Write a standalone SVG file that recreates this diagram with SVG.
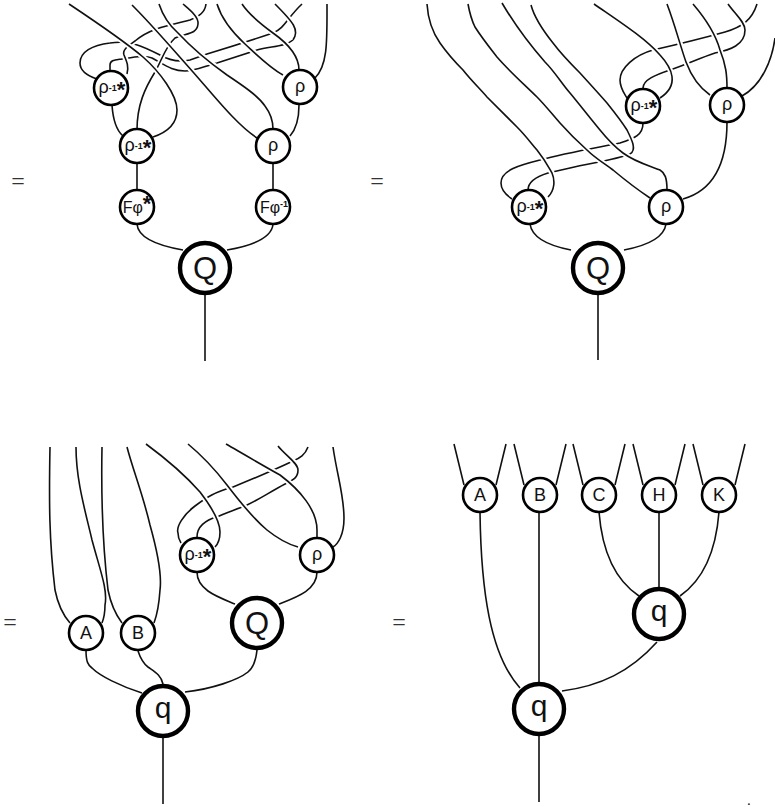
<svg xmlns="http://www.w3.org/2000/svg" width="775" height="807" viewBox="0 0 775 807">
<style>
path{fill:none;stroke:#111;stroke-width:1.6;stroke-linecap:butt}
path.h{stroke:#fff;stroke-width:5.5}
circle{fill:#fff;stroke:#000;stroke-width:2.6}
circle.b{stroke-width:4.4}
text{font-family:"Liberation Sans",Arial,sans-serif;fill:#111;text-anchor:middle}
.m{font-size:18px}
.g{font-size:18px}
.f{font-size:16px}
.l{font-size:31px}
.q{font-size:30px}
.e{font-family:"Liberation Serif","Times New Roman",serif;font-size:24px;fill:#333}
.s{font-size:9px;font-weight:bold}
.t{font-size:22px;font-weight:bold}
.d{font-size:10px;font-weight:bold}
</style>
<g id="connectors">
<!-- panel 1 -->
<path d="M97,79 C85,75 80,70 80,63 C80,52 92,45 110,43 C130,40 142,46 160,55 C170,61 180,62 190,60 L207,54 C230,47 255,39 273,33 C285,28 287,18 302,4"/>
<path d="M110,72 L110,65 C110,60 115,60 122,59 C135,57 145,55 152,58 C165,65 172,71 185,71 C195,71 205,66 217,63 L257,50 C270,46 285,47 293,40"/>
<path class="h" d="M293,40 C300,30 293,22 275,4"/>
<path d="M293,40 C300,30 293,22 275,4"/>
<path class="h" d="M206,4 C205,12 200,16 190,20 C170,25 150,28 135,41 C128,46 122,50 124,55 C127,62 129,67 127,74"/>
<path d="M206,4 C205,12 200,16 190,20 C170,25 150,28 135,41 C128,46 122,50 124,55 C127,62 129,67 127,74"/>
<path class="h" d="M183,4 C190,10 199,17 198,24 C197,35 185,33 175,38 C165,47 162,60 155,72 C145,88 137,105 137,130"/>
<path d="M183,4 C190,10 199,17 198,24 C197,35 185,33 175,38 C165,47 162,60 155,72 C145,88 137,105 137,130"/>
<path class="h" d="M69,4 C90,18 123,40 143,57 C160,72 177,95 177,110 C177,125 165,133 153,137"/>
<path d="M69,4 C90,18 123,40 143,57 C160,72 177,95 177,110 C177,125 165,133 153,137"/>
<path class="h" d="M132,5 C155,28 175,52 193,72 C215,97 237,125 257,138"/>
<path d="M132,5 C155,28 175,52 193,72 C215,97 237,125 257,138"/>
<path class="h" d="M159,4 C163,16 170,26 178,33 C192,48 210,63 227,75 C245,87 258,96 265,106 C271,114 273,122 273,129"/>
<path d="M159,4 C163,16 170,26 178,33 C192,48 210,63 227,75 C245,87 258,96 265,106 C271,114 273,122 273,129"/>
<path class="h" d="M217,4 C222,20 232,32 245,44 C258,56 270,68 283,75"/>
<path d="M217,4 C222,20 232,32 245,44 C258,56 270,68 283,75"/>
<path class="h" d="M242,4 C250,16 262,25 273,33 C290,45 299,58 299,70"/>
<path d="M242,4 C250,16 262,25 273,33 C290,45 299,58 299,70"/>
<path d="M327,4 C327,40 328,65 315,78"/>
<path d="M112,105 C113,120 116,130 123,136"/>
<path d="M299,105 C299,118 297,128 290,136"/>
<path d="M137,163 V190 M273,163 V190"/>
<path d="M137,224 C138,238 160,246 183,250 M273,224 C272,238 250,246 227,250"/>
<path d="M205,294 V361"/>
<!-- panel 2 -->
<path d="M643,123 C643,135 635,138 620,143 C595,148 565,153 540,160 C520,165 501,170 501,183 C501,190 506,195 512,199"/>
<path class="h" d="M553,43 C562,55 572,65 580,73 C590,84 600,95 607,103 C615,113 622,122 627,130 C632,140 637,150 630,154"/>
<path d="M531,5 C535,20 545,33 553,43 C562,55 572,65 580,73 C590,84 600,95 607,103 C615,113 622,122 627,130 C632,140 637,150 630,154 C615,160 590,163 570,168 L548,173 C535,177 528,183 528,190"/>
<path class="h" d="M468,4 C470,15 472,21 475,27 C482,38 490,48 497,57 C510,72 525,85 537,97 C545,105 552,114 560,123 C568,132 578,142 587,150 C595,158 605,164 613,170 C625,180 638,190 650,198"/>
<path d="M468,4 C470,15 472,21 475,27 C482,38 490,48 497,57 C510,72 525,85 537,97 C545,105 552,114 560,123 C568,132 578,142 587,150 C595,158 605,164 613,170 C625,180 638,190 650,198"/>
<path class="h" d="M502,3 C515,25 530,45 545,62 C555,72 562,84 570,93 C580,105 590,118 600,130 C608,140 615,147 623,153 C635,162 650,166 660,170 C665,173 667,178 667,190"/>
<path d="M502,3 C515,25 530,45 545,62 C555,72 562,84 570,93 C580,105 590,118 600,130 C608,140 615,147 623,153 C635,162 650,166 660,170 C665,173 667,178 667,190"/>
<path class="h" d="M427,4 C428,20 433,33 440,43 C447,53 455,62 463,70 C470,79 480,89 487,97 C497,107 507,117 517,127 C525,135 531,143 537,150 C545,160 548,166 552,173 C555,180 555,190 548,197"/>
<path d="M427,4 C428,20 433,33 440,43 C447,53 455,62 463,70 C470,79 480,89 487,97 C497,107 507,117 517,127 C525,135 531,143 537,150 C545,160 548,166 552,173 C555,180 555,190 548,197"/>
<path d="M757,4 C752,20 742,27 725,32 C700,39 675,45 653,50 C635,55 620,68 620,80 C620,88 624,93 627,98"/>
<path class="h" d="M728,4 C735,14 745,22 745,30 C745,45 730,50 715,53"/>
<path d="M728,4 C735,14 745,22 745,30 C745,45 730,50 715,53 C700,58 685,65 670,70 C655,75 643,80 643,88"/>
<path class="h" d="M594,4 C620,22 645,38 660,55 C672,68 680,85 660,98"/>
<path d="M594,4 C620,22 645,38 660,55 C672,68 680,85 660,98"/>
<path class="h" d="M667,4 C675,25 680,45 686,62 C692,78 700,88 710,95"/>
<path d="M667,4 C675,25 680,45 686,62 C692,78 700,88 710,95"/>
<path class="h" d="M693,4 C705,18 715,32 720,50 C726,65 727,75 727,88"/>
<path d="M693,4 C705,18 715,32 720,50 C726,65 727,75 727,88"/>
<path d="M742,96 C762,85 772,60 775,38"/>
<path d="M727,122 C727,160 715,190 683,199"/>
<path d="M530,224 C532,238 550,246 571,250 M666,224 C664,238 645,246 624,250"/>
<path d="M598,294 V360"/>
<!-- panel 3 -->
<path d="M50,447 C49,500 49,540 55,590 C58,605 63,615 70,623"/>
<path d="M76,447 C76,480 85,510 92,540 C100,570 108,590 105,605 C105,612 104,618 102,623"/>
<path d="M102,447 C101,500 102,540 108,590 C111,605 116,615 122,623"/>
<path d="M127,447 C133,470 143,495 150,525 C157,550 162,575 160,590 C159,605 157,615 154,623"/>
<path d="M308,447 C305,455 300,458 293,461 C270,472 250,480 233,487 C215,492 207,497 195,506 C183,515 176,527 178,533 C178,537 179,540 181,543"/>
<path class="h" d="M278,446 C285,455 298,463 298,470 C298,478 293,480 285,484"/>
<path d="M278,446 C285,455 298,463 298,470 C298,478 293,480 285,484 C270,492 258,500 247,505 C235,510 225,513 217,517 C205,520 197,527 197,537"/>
<path class="h" d="M146,444 C165,458 185,475 200,492 C210,505 220,520 220,532 C220,540 218,544 215,547"/>
<path d="M146,444 C165,458 185,475 200,492 C210,505 220,520 220,532 C220,540 218,544 215,547"/>
<path class="h" d="M188,444 C205,458 217,472 227,485 C240,502 255,520 267,530 C277,538 287,544 298,547"/>
<path d="M188,444 C205,458 217,472 227,485 C240,502 255,520 267,530 C277,538 287,544 298,547"/>
<path class="h" d="M226,444 C245,455 262,465 280,475 C300,490 317,510 317,530 L317,538"/>
<path d="M226,444 C245,455 262,465 280,475 C300,490 317,510 317,530 L317,538"/>
<path d="M333,447 C337,475 344,495 344,518 C344,535 338,544 333,547"/>
<path d="M197,572 C197,590 218,597 235,604 M317,572 C317,590 297,597 279,604"/>
<path d="M86,650 C86,662 88,665 92,668 C100,676 120,686 142,693 M138,651 C141,660 144,664 148,667 C155,672 161,675 163,684 M257,650 C256,660 254,667 248,672 C238,680 212,689 185,692"/>
<path d="M163,738 V804"/>
<!-- panel 4 -->
<path d="M454,444 L464,485 M506,444 L496,485 M514,444 L524,485 M566,444 L556,485 M573,444 L583,485 M625,444 L615,485 M633,444 L643,485 M685,444 L675,485 M693,444 L703,485 M745,444 L735,485"/>
<path d="M480,512 C481,590 490,655 520,688"/>
<path d="M539,512 V683 M539,735 V802"/>
<path d="M599,512 C602,550 615,580 639,596 M659,512 V588 M719,512 C716,550 703,580 680,596"/>
<path d="M657,642 C630,672 600,686 562,691"/>
</g>
<g id="n1"><circle cx="111" cy="88" r="17"/><text x="112" y="93" class="g">ρ<tspan class="s" dy="-2">-1</tspan><tspan class="t" dy="6">*</tspan></text></g>
<g id="n2"><circle cx="137" cy="146" r="17"/><text x="138" y="151" class="g">ρ<tspan class="s" dy="-2">-1</tspan><tspan class="t" dy="6">*</tspan></text></g>
<g id="n3"><circle cx="137" cy="207" r="17"/><text x="137" y="213" class="f">Fφ<tspan class="t" dy="-2">*</tspan></text></g>
<g id="n4"><circle cx="300" cy="87" r="17"/><text x="300" y="92" class="g">ρ</text></g>
<g id="n5"><circle cx="273" cy="146" r="17"/><text x="273" y="151" class="g">ρ</text></g>
<g id="n6"><circle cx="273" cy="207" r="17"/><text x="274" y="213" class="f">Fφ<tspan class="s" dy="-6">-1</tspan></text></g>
<g id="n7"><circle class="b" cx="205" cy="268" r="25"/><text x="205" y="279" class="l">Q</text></g>
<g id="n8"><circle cx="643" cy="106" r="17"/><text x="644" y="111" class="g">ρ<tspan class="s" dy="-2">-1</tspan><tspan class="t" dy="6">*</tspan></text></g>
<g id="n9"><circle cx="727" cy="105" r="17"/><text x="727" y="110" class="g">ρ</text></g>
<g id="n10"><circle cx="529" cy="207" r="17"/><text x="530" y="212" class="g">ρ<tspan class="s" dy="-2">-1</tspan><tspan class="t" dy="6">*</tspan></text></g>
<g id="n11"><circle cx="666" cy="207" r="17"/><text x="666" y="212" class="g">ρ</text></g>
<g id="n12"><circle class="b" cx="598" cy="268" r="25"/><text x="598" y="279" class="l">Q</text></g>
<g id="n13"><circle cx="197" cy="555" r="17"/><text x="198" y="560" class="g">ρ<tspan class="s" dy="-2">-1</tspan><tspan class="t" dy="6">*</tspan></text></g>
<g id="n14"><circle cx="317" cy="555" r="17"/><text x="317" y="560" class="g">ρ</text></g>
<g id="n15"><circle cx="86" cy="633" r="17"/><text x="86" y="639" class="m">A</text></g>
<g id="n16"><circle cx="138" cy="633" r="17"/><text x="138" y="639" class="m">B</text></g>
<g id="n17"><circle class="b" cx="257" cy="623" r="25"/><text x="257" y="634" class="l">Q</text></g>
<g id="n18"><circle class="b" cx="163" cy="711" r="25"/><text x="163" y="718" class="q">q</text></g>
<g id="n19"><circle cx="480" cy="495" r="17"/><text x="480" y="501" class="m">A</text></g>
<g id="n20"><circle cx="540" cy="495" r="17"/><text x="540" y="501" class="m">B</text></g>
<g id="n21"><circle cx="599" cy="495" r="17"/><text x="599" y="501" class="m">C</text></g>
<g id="n22"><circle cx="659" cy="495" r="17"/><text x="659" y="501" class="m">H</text></g>
<g id="n23"><circle cx="719" cy="495" r="17"/><text x="719" y="501" class="m">K</text></g>
<g id="n24"><circle class="b" cx="659" cy="614" r="25"/><text x="659" y="621" class="q">q</text></g>
<g id="n25"><circle class="b" cx="539" cy="709" r="25"/><text x="539" y="716" class="q">q</text></g>
<text x="18" y="189" class="e">=</text>
<text x="377" y="189" class="e">=</text>
<text x="10" y="630" class="e">=</text>
<text x="399" y="630" class="e">=</text>
<text x="749" y="804.6" class="d">.</text>
</svg>
